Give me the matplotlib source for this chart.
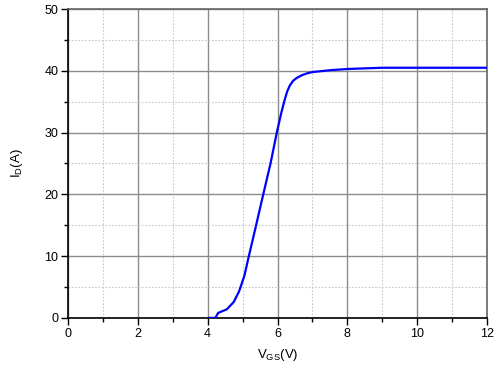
import matplotlib
matplotlib.use('Agg')
import matplotlib.pyplot as plt
from matplotlib.ticker import MultipleLocator
import numpy as np

plt.rcParams['font.family'] = ['Liberation Sans', 'DejaVu Sans']
plt.rcParams['mathtext.fontset'] = 'custom'
plt.rcParams['mathtext.rm'] = 'Liberation Sans'

# transfer curve
vgs = [4.05, 4.22, 4.3, 4.55, 4.75, 4.9, 5.05, 5.2, 5.4, 5.6, 5.8, 5.98,
       6.1, 6.2, 6.28, 6.36, 6.45, 6.55, 6.7, 6.85, 7.0, 7.5, 8.0, 9.0, 10.0, 12.0]
i_d = [0.0, 0.0, 0.8, 1.4, 2.6, 4.3, 6.8, 10.5, 15.3, 20.2, 25.0, 30.0,
       33.0, 35.2, 36.7, 37.7, 38.4, 38.85, 39.3, 39.6, 39.8, 40.1, 40.3, 40.5, 40.5, 40.5]

xticks = [0, 2, 4, 6, 8, 10, 12]
yticks = [0, 10, 20, 30, 40, 50]

fig = plt.figure(figsize=(5, 3.78), dpi=100)
ax = fig.add_axes([0.136, 0.159, 0.838, 0.817])

ax.plot(vgs, i_d, color='#0000ff', lw=1.6, zorder=3)

ax.set_xlim(0, 12)
ax.set_ylim(0, 50)
ax.set_xticks(xticks)
ax.set_yticks(yticks)
ax.xaxis.set_minor_locator(MultipleLocator(1))
ax.yaxis.set_minor_locator(MultipleLocator(5))

ax.grid(which='major', color='#8c8c8c', lw=1.0, ls='-')
ax.grid(which='minor', color='#c8c8c8', lw=0.8, ls=(0, (1.5, 1.5)))
ax.set_axisbelow(True)

ax.tick_params(which='major', direction='out', length=5, width=1, labelsize=9, pad=2)
ax.tick_params(which='minor', direction='out', length=3, width=1)

for side in ['left', 'bottom']:
    ax.spines[side].set_color('black')
    ax.spines[side].set_linewidth(1.2)
for side in ['top', 'right']:
    ax.spines[side].set_color('#666666')
    ax.spines[side].set_linewidth(1.2)

ax.set_xlabel(r'$\mathregular{V_{GS}(V)}$', fontsize=9.5, labelpad=5)
ax.set_ylabel(r'$\mathregular{I_D(A)}$', fontsize=9.5, labelpad=14)

fig.savefig('out.png', dpi=100)
